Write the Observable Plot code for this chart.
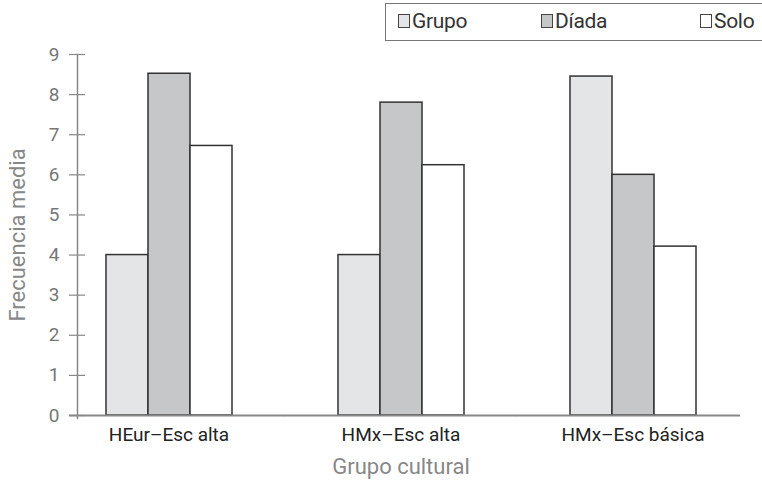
<!DOCTYPE html>
<html>
<head>
<meta charset="utf-8">
<script src="https://cdn.jsdelivr.net/npm/d3@7"></script>
<script src="https://cdn.jsdelivr.net/npm/@observablehq/plot@0.6"></script>
<style>
  html, body { margin: 0; padding: 0; background: #fff; }
  #wrap { position: relative; width: 762px; height: 488px; font-family: Roboto, "Liberation Sans", sans-serif; }
  #legend { position: absolute; left: 385px; top: 3px; width: 380px; height: 38px; border: 1.5px solid #777; box-sizing: border-box; background: #fff; }
  .item { position: absolute; top: 5px; font-size: 21px; color: #333; display: flex; align-items: center; letter-spacing: -0.3px; }
  .sw { display: inline-block; width: 10px; height: 12px; border: 1px solid #444; margin-right: 2px; }
</style>
</head>
<body>
<div id="wrap"></div>
<script>
const groups = ["HEur–Esc alta", "HMx–Esc alta", "HMx–Esc básica"];
const seriesNames = ["Grupo", "Díada", "Solo"];
const grupo = [4.0, 4.0, 8.45];
const diada = [8.52, 7.8, 6.0];
const solo = [6.72, 6.24, 4.21];
const yTicks = [0, 1, 2, 3, 4, 5, 6, 7, 8, 9];
const colors = ["#e4e5e7", "#c6c7c9", "#ffffff"];

const values = [grupo, diada, solo];
const data = [];
groups.forEach((g, i) => seriesNames.forEach((s, j) => data.push({group: g, serie: s, value: values[j][i]})));

const font = 'Roboto, "Liberation Sans", sans-serif';

// baseline segments per facet (extended to join across facet gaps)
const halfGap = 24.75;
const baseLine = (g, l, r) => Plot.ruleY([{group: g}], {fx: "group", y: () => 0, stroke: "#888", strokeWidth: 2, insetLeft: -l, insetRight: -r});

const plot = Plot.plot({
  width: 762,
  height: 488,
  marginTop: 54,
  marginBottom: 73,
  marginLeft: 76,
  marginRight: 38,
  style: {fontFamily: font, background: "#fff"},
  fx: {domain: groups, paddingInner: 0.2129, paddingOuter: 0, label: null, axis: null},
  x: {domain: seriesNames, paddingInner: 0, paddingOuter: 0.66, axis: null},
  y: {domain: [0, 9], label: null},
  color: {domain: seriesNames, range: colors},
  marks: [
    Plot.barY(data, {fx: "group", x: "serie", y: "value", fill: "serie", stroke: "#333", strokeWidth: 1.5}),
    Plot.frame({anchor: "left", facetAnchor: "left", stroke: "#888", strokeWidth: 1.5, insetBottom: -3}),
    baseLine(groups[0], 8, halfGap),
    baseLine(groups[1], halfGap, halfGap),
    baseLine(groups[2], halfGap, 16),
    Plot.axisY(yTicks, {tickSize: 16, dx: 8, tickFormat: () => "", stroke: "#888", strokeWidth: 1.2, label: null}),
    Plot.axisY(yTicks, {tickSize: 0, tickPadding: 18, fontSize: 19, fill: "#777", label: null}),
    Plot.axisY(yTicks, {tickSize: 0, tickFormat: () => "", fontSize: 22, fill: "#888", label: "Frecuencia media", labelAnchor: "center", labelArrow: "none", labelOffset: 68}),
    Plot.axisFx({anchor: "bottom", tickSize: 0, tickPadding: 12, fontSize: 19, fill: "#222", label: null}),
    Plot.axisFx({anchor: "bottom", tickSize: 0, tickFormat: () => "", fontSize: 22, fill: "#888", label: "Grupo cultural", labelAnchor: "center", labelArrow: "none", labelOffset: 58})
  ]
});

const wrap = document.getElementById("wrap");
wrap.appendChild(plot);

const legend = document.createElement("div");
legend.id = "legend";
const lefts = [12, 155, 314];
seriesNames.forEach((s, i) => {
  const it = document.createElement("div");
  it.className = "item";
  it.style.left = lefts[i] + "px";
  const sw = document.createElement("span");
  sw.className = "sw";
  sw.style.background = colors[i];
  it.appendChild(sw);
  it.appendChild(document.createTextNode(s));
  legend.appendChild(it);
});
wrap.appendChild(legend);
</script>
</body>
</html>
